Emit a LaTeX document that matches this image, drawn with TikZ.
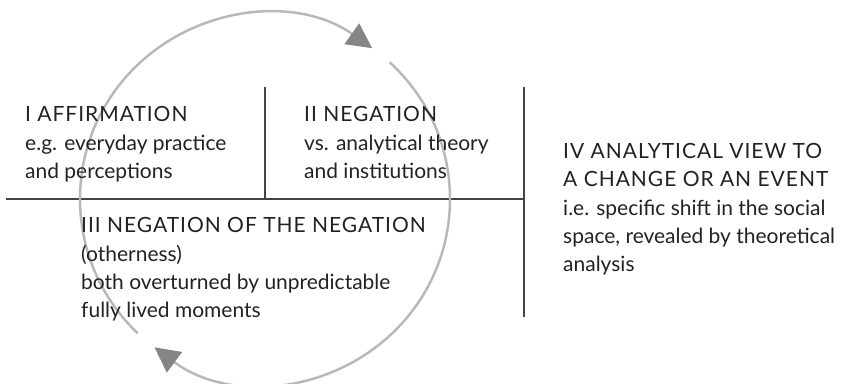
\documentclass[tikz,border=0pt]{standalone}
\usepackage{fontspec}
\setmainfont{Lato}
\usetikzlibrary{arrows.meta}
\definecolor{ink}{HTML}{222222}
\definecolor{rulegray}{HTML}{444444}
\definecolor{ringgray}{HTML}{B8B8B8}
\definecolor{tipgray}{HTML}{858585}
\newcommand{\heading}[1]{{\addfontfeature{LetterSpace=4.7}#1}}

\begin{document}
\begin{tikzpicture}[
    font=\fontsize{17.9pt}{24.1pt}\selectfont,
    block/.style={anchor=base west, align=left, inner sep=0pt, text=ink},
    divider/.style={draw=rulegray, line width=1.2pt},
    ring/.style={draw=ringgray, line width=2.1pt,
        -{Triangle[length=0.75cm, width=0.75cm, color=tipgray]}}
]
\useasboundingbox (-7.95,-5.52) rectangle (17.34,5.97);
% dividing lines
\coordinate (west) at (-7.77,0);
\coordinate (east) at (7.77,0);
\coordinate (midtop) at (0,3.36);
\coordinate (righttop) at (7.77,3.36);
\coordinate (rightbot) at (7.77,-3.54);
\draw[divider] (west) -- (east);
\draw[divider] (midtop) -- (0,0);
\draw[divider] (righttop) -- (rightbot);
% the turning circle
\draw[ring] (226.5:5.55) arc[start angle=226.5, end angle=54.6, radius=5.55];
\draw[ring] (47.6:5.55) arc[start angle=47.6, end angle=-126.7, radius=5.55];
% texts (anchored on the last baseline)
\node[block] (aff) at (-7.2,0.62)
    {\heading{I AFFIRMATION}\\
     e.g. everyday practice\\
     and perceptions};
\node[block] (neg) at (1.17,0.62)
    {\heading{II NEGATION}\\
     vs. analytical theory\\
     and institutions};
\node[block] (negneg) at (-5.52,-3.56)
    {\heading{III NEGATION OF THE NEGATION}\\
     (otherness)\\
     both overturned by unpredictable\\
     fully lived moments};
\node[block] (view) at (8.94,-2.18)
    {\heading{IV ANALYTICAL VIEW TO}\\
     \heading{A CHANGE OR AN EVENT}\\
     i.e. specific shift in the social\\
     space, revealed by theoretical\\
     analysis};
\end{tikzpicture}
\end{document}
